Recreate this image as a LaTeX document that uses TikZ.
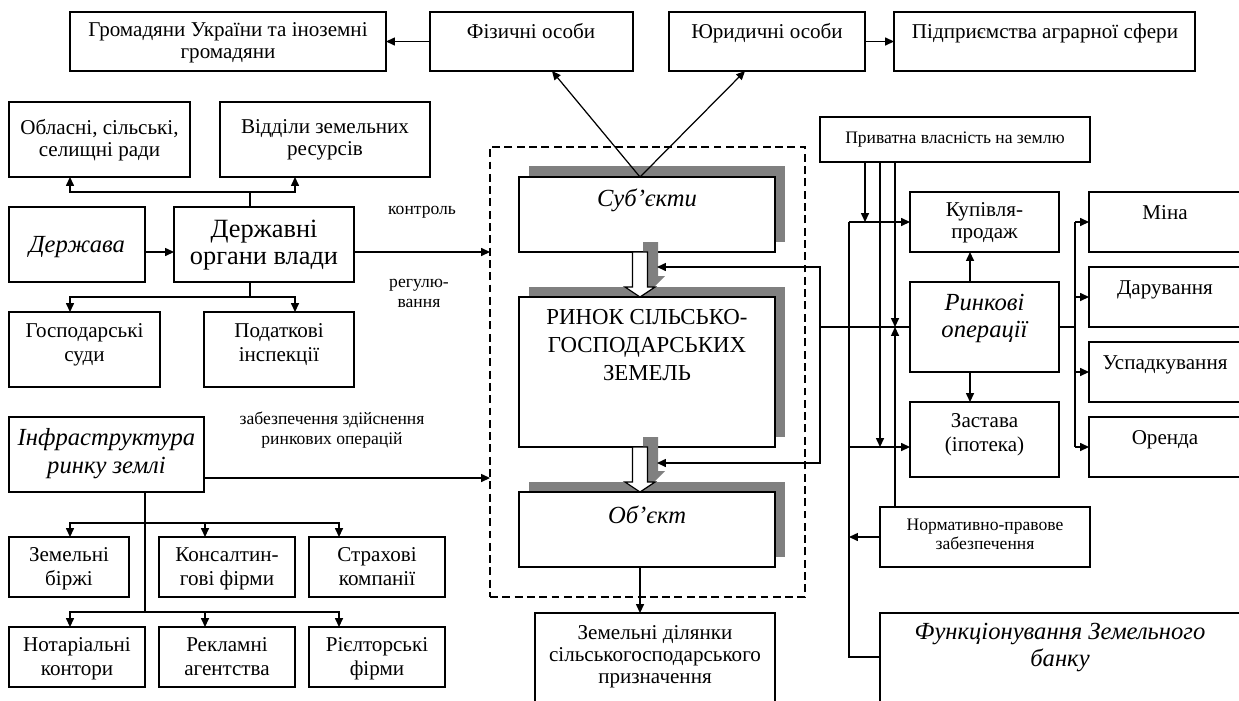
\documentclass[tikz,border=0pt]{standalone}
\usepackage{fontspec}
\setmainfont{Liberation Serif}
\usetikzlibrary{arrows.meta}
\definecolor{shadowgray}{HTML}{808080}
\tikzset{
  box/.style={draw, line width=0.7pt, fill=white, inner sep=0pt, outer sep=0pt},
  frame/.style={draw, dashed, dash pattern=on 4.5pt off 2.5pt, line width=0.6pt, inner sep=0pt, outer sep=0pt},
  shad/.style={fill=shadowgray, draw=none},
  arr/.style={-{Triangle[length=5pt,width=4.5pt]}, line width=0.7pt},
  ln/.style={line width=0.7pt},
  blockarrow/.style={line width=0.7pt, fill=white},
  txt/.style={align=center, inner sep=0pt, yshift=-1.2pt, execute at begin node=\strut, execute at end node=\strut},
  t12/.style={txt, font=\fontsize{12}{12.5}\selectfont},
  t12b/.style={txt, font=\fontsize{12}{14}\selectfont},
  t10/.style={txt, font=\fontsize{10}{11}\selectfont},
  ti14/.style={txt, font=\fontsize{14}{15.5}\selectfont\itshape},
  big/.style={txt, font=\fontsize{15}{15.5}\selectfont},
  caps/.style={txt, font=\fontsize{13}{16}\selectfont},
}
\newcommand\pbox[6][box]{\node[#1, anchor=north west, minimum width={(#5-#3)*0.02cm}, minimum height={(#6-#4)*0.02cm}] (#2) at (#3,#4) {};}
\begin{document}
\begin{tikzpicture}[x=0.02cm,y=-0.02cm]
\useasboundingbox (0,0) rectangle (1239,700);

% dashed frame
\pbox[frame]{frame}{490}{147}{805}{597}

% shadows of the central boxes
\fill[shad] (529,166) rectangle (785,242);
\fill[shad] (529,287) rectangle (785,437);
\fill[shad] (529,482) rectangle (785,557);

% boxes
\pbox{gr}{70}{12}{386}{71}
\pbox{fiz}{430}{12}{633}{71}
\pbox{yur}{669}{12}{865}{71}
\pbox{pid}{894}{12}{1195}{71}
\pbox{obl}{9}{102}{190}{177}
\pbox{vid}{220}{102}{430}{177}
\pbox{der}{9}{207}{145}{282}
\pbox{dor}{174}{207}{354}{282}
\pbox{gos}{9}{312}{160}{387}
\pbox{pod}{204}{312}{354}{387}
\pbox{inf}{9}{417}{204}{492}
\pbox{zb}{9}{537}{129}{597}
\pbox{kons}{159}{537}{295}{597}
\pbox{str}{309}{537}{445}{597}
\pbox{not}{9}{627}{145}{687}
\pbox{rek}{159}{627}{295}{687}
\pbox{ril}{309}{627}{445}{687}
\pbox{sub}{519}{177}{775}{252}
\pbox{ryn}{519}{297}{775}{447}
\pbox{obj}{519}{492}{775}{567}
\pbox{zd}{535}{613}{775}{712}
\pbox{pv}{820}{117}{1090}{162}
\pbox{kup}{910}{192}{1059}{252}
\pbox{ro}{910}{282}{1059}{372}
\pbox{zas}{910}{402}{1059}{477}
\pbox{mina}{1089}{192}{1247}{252}
\pbox{dar}{1089}{267}{1247}{327}
\pbox{usp}{1089}{342}{1247}{402}
\pbox{ore}{1089}{417}{1247}{477}
\pbox{norm}{880}{507}{1090}{567}
\pbox{fzb}{880}{613}{1247}{712}

% block arrows with shadows
\fill[shad] (643,242) -- (658,242) -- (658,276) -- (665,276) -- (654,287) -- (643,287) -- cycle;
\draw[blockarrow] (632.5,252) -- (647.5,252) -- (647.5,287) -- (655,287) -- (640,297) -- (625,287) -- (632.5,287) -- cycle;
\fill[shad] (643,437) -- (658,437) -- (658,471) -- (665,471) -- (654,482) -- (643,482) -- cycle;
\draw[blockarrow] (632.5,447) -- (647.5,447) -- (647.5,482) -- (655,482) -- (640,492) -- (625,482) -- (632.5,482) -- cycle;

% texts
\node[t12] (gr-t) at (228,42) {Громадяни України та іноземні\\громадяни};
\node[t12] (fiz-t) at (531,32) {Фізичні особи};
\node[t12] (yur-t) at (767,32) {Юридичні особи};
\node[t12] (pid-t) at (1045,32) {Підприємства аграрної сфери};
\node[t12] (obl-t) at (99.5,139) {Обласні, сільські,\\селищні ради};
\node[t12] (vid-t) at (325,139) {Відділи земельних\\ресурсів};
\node[ti14] (der-t) at (77,245) {Держава};
\node[big] (dor-t) at (264,244) {Державні\\органи влади};
\node[t12b] (gos-t) at (84.5,344) {Господарські\\суди};
\node[t12b] (pod-t) at (279,344) {Податкові\\інспекції};
\node[ti14] (inf-t) at (106.5,453) {Інфраструктура\\ринку землі};
\node[t12b] (zb-t) at (69,568) {Земельні\\біржі};
\node[t12b] (kons-t) at (227,568) {Консалтин-\\гові фірми};
\node[t12b] (str-t) at (377,568) {Страхові\\компанії};
\node[t12b] (not-t) at (77,658) {Нотаріальні\\контори};
\node[t12b] (rek-t) at (227,658) {Рекламні\\агентства};
\node[t12b] (ril-t) at (377,658) {Рієлторські\\фірми};
\node[t10] (kon-l) at (422,209) {контроль};
\node[t10] (reg-l) at (419,294) {регулю-\\вання};
\node[t10] (zab-l) at (332,429) {забезпечення здійснення\\ринкових операцій};
\node[ti14] (sub-t) at (647,199) {Суб’єкти};
\node[caps] (ryn-t) at (647,347) {РИНОК СІЛЬСЬКО-\\ГОСПОДАРСЬКИХ\\ЗЕМЕЛЬ};
\node[ti14] (obj-t) at (647,516) {Об’єкт};
\node[t12] (zd-t) at (655,656) {Земельні ділянки\\сільськогосподарського\\призначення};
\node[t10] (pv-t) at (955,138) {Приватна власність на землю};
\node[t12] (kup-t) at (984.5,222) {Купівля-\\продаж};
\node[ti14] (ro-t) at (984.5,318) {Ринкові\\операції};
\node[t12b] (zas-t) at (984.5,434) {Застава\\(іпотека)};
\node[t12] (mina-t) at (1165,213) {Міна};
\node[t12] (dar-t) at (1165,288) {Дарування};
\node[t12] (usp-t) at (1165,363) {Успадкування};
\node[t12] (ore-t) at (1165,438) {Оренда};
\node[t10] (norm-t) at (985,535) {Нормативно-правове\\забезпечення};
\node[ti14] (fzb-t) at (1060,647) {Функціонування Земельного\\банку};

% helper coordinates
\coordinate (x70) at (70,0);
\coordinate (x145) at (145,0);
\coordinate (x205) at (205,0);
\coordinate (x250) at (250,0);
\coordinate (x295) at (295,0);
\coordinate (x339) at (339,0);
\coordinate (x640) at (640,0);
\coordinate (x849) at (849,0);
\coordinate (x865) at (865,0);
\coordinate (x880) at (880,0);
\coordinate (x895) at (895,0);
\coordinate (x970) at (970,0);
\coordinate (x1075) at (1075,0);
\coordinate (y252) at (0,252);
\coordinate (y447) at (0,447);
\coordinate (y478) at (0,478);
\coordinate (jup) at (250,192);
\coordinate (jdn) at (250,297);
\coordinate (ja) at (145,523);
\coordinate (jb) at (145,612);
\coordinate (subtop) at (640,177);
\coordinate (fizin) at (552,71);
\coordinate (yurin) at (745,71);
\coordinate (fbtop) at (657,267);
\coordinate (fbbot) at (657,463);
\coordinate (fbj) at (820,327);
\coordinate (fzbin) at (880,657);

% top connectors
\draw[arr] (fiz.west) -- (gr.east);
\draw[arr] (yur.east) -- (pid.west);
\draw[arr] (subtop) -- (fizin);
\draw[arr] (subtop) -- (yurin);

% state bodies
\draw[ln] (dor.north -| x250) -- (jup);
\draw[arr] (jup) -| (obl.south -| x70);
\draw[arr] (jup) -| (vid.south -| x295);
\draw[ln] (dor.south -| x250) -- (jdn);
\draw[arr] (jdn) -| (gos.north -| x70);
\draw[arr] (jdn) -| (pod.north -| x295);
\draw[arr] (der.east |- y252) -- (dor.west |- y252);
\draw[arr] (dor.east |- y252) -- (frame.west |- y252);

% infrastructure
\draw[arr] (inf.east |- y478) -- (frame.west |- y478);
\draw[ln] (inf.south -| x145) -- (jb);
\draw[arr] (ja) -| (zb.north -| x70);
\draw[arr] (ja) -| (kons.north -| x205);
\draw[arr] (ja) -| (str.north -| x339);
\draw[arr] (jb) -| (not.north -| x70);
\draw[arr] (jb) -| (rek.north -| x205);
\draw[arr] (jb) -| (ril.north -| x339);

% object
\draw[arr] (obj.south -| x640) -- (zd.north -| x640);

% feedback from market operations
\draw[ln] (ro.west) -- (fbj);
\draw[arr] (fbj) |- (fbtop);
\draw[arr] (fbj) |- (fbbot);

% private ownership, regulation, land bank
\draw[arr] (pv.south -| x865) -- (x865 |- kup.west);
\draw[arr] (x849 |- kup.west) -- (kup.west);
\draw[ln] (x849 |- kup.west) |- (fzbin);
\draw[arr] (pv.south -| x880) -- (x880 |- y447);
\draw[arr] (x849 |- y447) -- (zas.west |- y447);
\draw[arr] (pv.south -| x895) -- (x895 |- fbj);
\draw[arr] (norm.north -| x895) -- (x895 |- fbj);
\draw[arr] (norm.west) -- (x849 |- norm.west);

% market operations
\draw[arr] (ro.north -| x970) -- (kup.south -| x970);
\draw[arr] (ro.south -| x970) -- (zas.north -| x970);
\draw[ln] (ro.east) -- (x1075 |- ro.east);
\draw[ln] (x1075 |- mina.west) -- (x1075 |- ore.west);
\foreach \n in {mina,dar,usp,ore} \draw[arr] (x1075 |- \n.west) -- (\n.west);
\end{tikzpicture}
\end{document}
